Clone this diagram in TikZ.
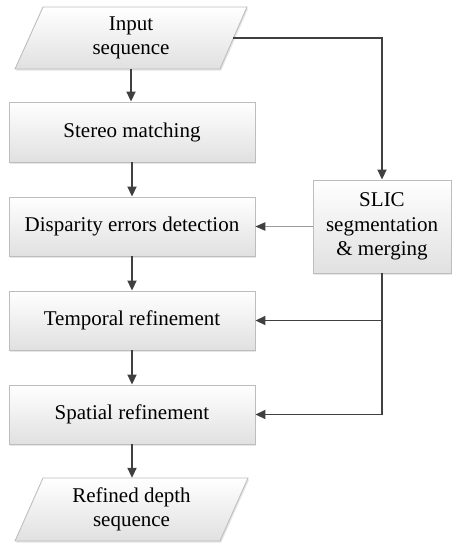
\documentclass[tikz,border=0pt]{standalone}
\usepackage{fontspec}
\setmainfont{Liberation Serif}
\usetikzlibrary{arrows.meta,shadows}
\definecolor{linegray}{HTML}{404040}
\definecolor{bordergray}{HTML}{BDBDBD}
\definecolor{lightline}{HTML}{9A9A9A}
\tikzset{
  boxfill/.style={top color=white, bottom color=black!12, draw=bordergray, line width=0.9pt,
    drop shadow={shadow xshift=1.2pt, shadow yshift=-1.6pt, opacity=0.2}},
  procbox/.style={boxfill, rectangle, minimum width=246pt, minimum height=59pt, inner sep=0pt,
    font=\fontsize{21pt}{24.5pt}\selectfont, align=center, text=black},
  iobox/.style={rectangle, minimum width=204pt, minimum height=62pt, inner sep=0pt,
    font=\fontsize{21pt}{24.5pt}\selectfont, align=center, text=black},
  arr/.style={draw=linegray, line width=1.8pt, -{Triangle[length=10pt,width=9pt]}},
  thinarr/.style={draw=lightline, line width=1pt, -{Triangle[length=10pt,width=8.5pt,fill=linegray,color=linegray]}},
}
\begin{document}
\begin{tikzpicture}[x=1pt,y=-1pt]
\useasboundingbox (0,0) rectangle (459,550);
% input parallelogram
\path[boxfill] (43,7) -- (247,7) -- (220,69) -- (15,69) -- cycle;
\node[iobox] (in) at (131,38) {Input\\sequence};
% output parallelogram
\path[boxfill] (43,478) -- (248,478) -- (220,541) -- (15,541) -- cycle;
\node[iobox, minimum width=205pt, minimum height=63pt] (out) at (131.5,509.5) {Refined depth\\sequence};
% process boxes
\node[procbox, minimum height=60pt] (sm) at (132,132) {Stereo matching};
\node[procbox] (de) at (132,226.5) {Disparity errors detection};
\node[procbox] (tr) at (132,320.5) {Temporal refinement};
\node[procbox] (sr) at (132,414.5) {Spatial refinement};
\node[procbox, minimum width=138pt, minimum height=93pt] (slic) at (382,226.5) {SLIC\\segmentation\\\& merging};
% connectors
\draw[arr] (in.south) -- (in.south |- sm.north);
\draw[arr] (sm.south) -- (de.north);
\draw[arr] (de.south) -- (tr.north);
\draw[arr] (tr.south) -- (sr.north);
\draw[arr] (sr.south) -- (sr.south |- out.north);
\draw[arr] (in.east) -| (slic.north);
\draw[thinarr] (slic.west) -- (de.east);
\draw[arr] (slic.south) |- (tr.east);
\draw[arr] (slic.south) |- (sr.east);
\end{tikzpicture}
\end{document}
